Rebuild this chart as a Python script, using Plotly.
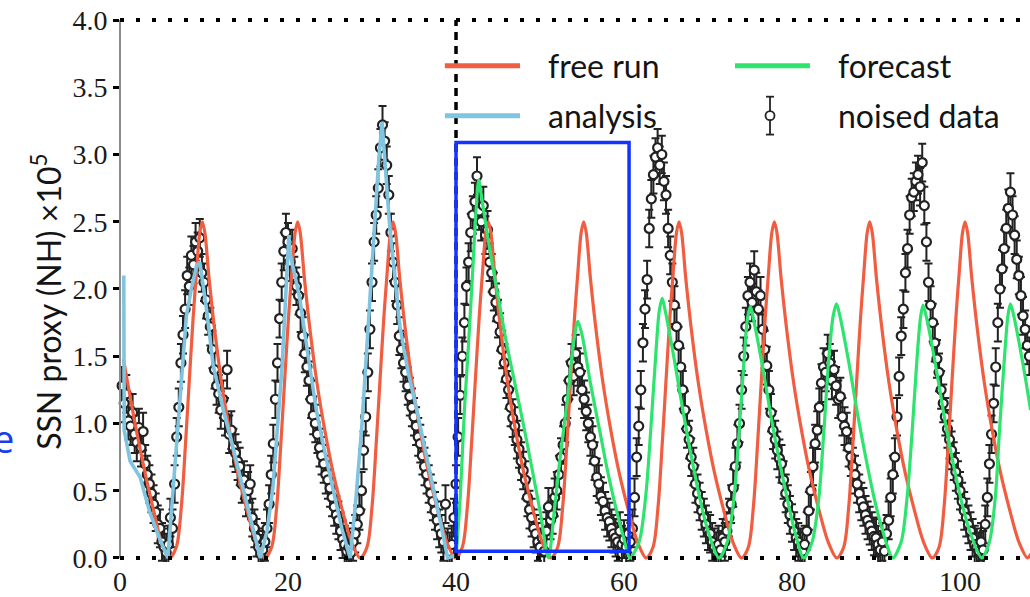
import plotly.graph_objects as go

# ---------------- data ----------------
# Noised observations, sampled every 0.25 time units; each block: (first time, values)
obs_segments = [
    (0.25, [1.28, 1.15, 1.22, 1.02, 0.98, 1.08, 0.92, 0.86, 0.97, 0.82, 0.94, 0.70, 0.62, 0.55,
            0.48, 0.40, 0.34, 0.25, 0.22, 0.12, 0.08, 0.04, 0.10]),
    (6.0, [0.30, 0.22, 0.55, 0.90, 1.12, 1.45, 1.66, 1.85, 2.10, 2.02, 2.25, 2.18, 2.35, 2.28,
           2.38, 2.12, 2.05, 1.92, 1.80, 1.72, 1.55, 1.40, 1.28, 1.22, 1.10, 1.18, 1.05, 1.40,
           0.92, 0.95, 0.82, 0.78, 0.72, 0.68, 0.55, 0.58, 0.45, 0.50, 0.55, 0.30, 0.22, 0.15,
           0.08, 0.03]),
    (17.0, [0.06, 0.12, 0.22, 0.40, 0.62, 0.85, 1.18, 1.45, 1.78, 2.05, 2.28, 2.42, 2.35, 2.20,
            2.30, 2.10, 2.02, 1.95, 1.82, 1.65, 1.52, 1.42, 1.32, 1.18, 1.06, 1.00, 0.92, 0.82,
            0.76, 0.70, 0.62, 0.58, 0.52, 0.45, 0.38, 0.32, 0.28, 0.20, 0.14, 0.10, 0.05, 0.08]),
    (27.5, [0.04, 0.12, 0.18, 0.25, 0.35, 0.50, 0.80, 1.05, 1.38, 1.70, 2.05, 2.35, 2.55, 2.75,
            3.05, 3.22, 3.10, 2.92, 2.70, 2.42, 2.20, 2.05, 1.88, 1.65, 1.55, 1.45, 1.38, 1.28,
            1.20, 1.12, 1.05, 0.98, 0.90, 0.85, 0.76, 0.68, 0.62, 0.55, 0.48, 0.42, 0.35, 0.28,
            0.22, 0.18, 0.12, 0.40, 0.08, 0.05, 0.10, 0.30]),
    (40.0, [0.55, 0.90, 1.21, 1.50, 1.75, 2.02, 2.20, 2.42, 2.55, 2.65, 2.84, 2.58, 2.50, 2.62,
            2.40, 2.44, 2.20, 2.12, 1.98, 1.90, 1.78, 1.68, 1.55, 1.45, 1.33, 1.25, 1.12, 1.04,
            0.98, 0.88, 0.81, 0.72, 0.65, 0.58, 0.45, 0.36, 0.30, 0.22, 0.18, 0.12, 0.08, 0.15,
            0.05, 0.20]),
    (51.0, [0.38, 0.28, 0.32, 0.45, 0.50, 0.62, 0.75, 0.84, 1.00, 1.18, 1.32, 1.45, 1.35, 1.52,
            1.42, 1.38, 1.25, 1.18, 1.09, 1.00, 0.90, 0.84, 0.72, 0.60, 0.55, 0.46, 0.42, 0.35,
            0.30, 0.27, 0.22, 0.18, 0.15, 0.12, 0.20, 0.10, 0.14, 0.08, 0.18, 0.12]),
    (61.0, [0.22, 0.45, 0.75, 0.98, 1.25, 1.60, 1.85, 2.07, 2.45, 2.67, 2.85, 2.98, 3.05, 2.92,
            3.00, 2.80, 2.70, 2.45, 2.25, 2.05, 1.88, 1.72, 1.58, 1.42, 1.25, 1.10, 0.96, 0.88,
            0.75, 0.68, 0.55, 0.48, 0.42, 0.35, 0.30, 0.25, 0.20, 0.18, 0.12, 0.08]),
    (71.0, [0.05, 0.10, 0.06, 0.15, 0.12, 0.20, 0.30, 0.40, 0.52, 0.68, 0.85, 1.00, 1.25, 1.50,
            1.72, 1.95, 2.05, 1.90, 2.14, 1.98, 1.85, 1.95, 1.70, 1.55, 1.43, 1.25, 1.08, 0.95,
            0.88, 0.80, 0.74, 0.70, 0.58, 0.48, 0.40, 0.32, 0.26, 0.20, 0.15, 0.12, 0.08, 0.05,
            0.10, 0.20]),
    (82.0, [0.35, 0.50, 0.68, 0.85, 0.95, 1.12, 1.30, 1.42, 1.38, 1.52, 1.45, 1.32, 1.40, 1.28,
            1.18, 1.20, 1.05, 0.98, 0.94, 0.82, 0.75, 0.68, 0.62, 0.55, 0.48, 0.42, 0.38, 0.32,
            0.28, 0.24, 0.20, 0.16, 0.15, 0.10, 0.06, 0.12, 0.05, 0.18, 0.28, 0.45]),
    (92.0, [0.62, 0.75, 1.05, 1.35, 1.65, 1.85, 2.12, 2.30, 2.55, 2.68, 2.72, 2.80, 2.85, 2.76,
            2.94, 2.62, 2.35, 2.05, 1.88, 1.75, 1.60, 1.48, 1.38, 1.25, 1.15, 1.05, 0.96, 0.88,
            0.80, 0.72, 0.64, 0.58, 0.50, 0.42, 0.35, 0.30, 0.25, 0.20, 0.15, 0.10, 0.08, 0.05,
            0.12, 0.06]),
    (103.0, [0.25, 0.45, 0.70, 0.92, 1.15, 1.42, 1.75, 2.00, 2.15, 2.30, 2.45, 2.60, 2.72, 2.55,
             2.40, 2.22, 2.10, 1.95, 1.80, 1.70, 1.58, 1.50]),
]
obs_step = 0.25
obs_err = 0.14

# Free-running model
free_t = [0.4, 1.2, 2.1, 3.1, 4.2, 5.0,
          5.9, 6.7, 7.3, 7.8, 8.25, 8.7, 9.1, 9.5, 9.8, 10.1, 10.6, 11.3, 12.1, 13.0, 14.0, 15.1, 16.2,
          17.25, 18.05, 18.65, 19.15, 19.6, 20.05, 20.45, 20.85, 21.15, 21.45, 21.95, 22.65, 23.45, 24.35, 25.35, 26.45, 27.55,
          28.6, 29.4, 30.0, 30.5, 30.95, 31.4, 31.8, 32.2, 32.5, 32.8, 33.3, 34.0, 34.8, 35.7, 36.7, 37.8, 38.9,
          39.95, 40.75, 41.35, 41.85, 42.3, 42.75, 43.15, 43.55, 43.85, 44.15, 44.65, 45.35, 46.15, 47.05, 48.05, 49.15, 50.25,
          51.3, 52.1, 52.7, 53.2, 53.65, 54.1, 54.5, 54.9, 55.2, 55.5, 56.0, 56.7, 57.5, 58.4, 59.4, 60.5, 61.6,
          62.65, 63.45, 64.05, 64.55, 65.0, 65.45, 65.85, 66.25, 66.55, 66.85, 67.35, 68.05, 68.85, 69.75, 70.75, 71.85, 72.95,
          74.0, 74.8, 75.4, 75.9, 76.35, 76.8, 77.2, 77.6, 77.9, 78.2, 78.7, 79.4, 80.2, 81.1, 82.1, 83.2, 84.3,
          85.35, 86.15, 86.75, 87.25, 87.7, 88.15, 88.55, 88.95, 89.25, 89.55, 90.05, 90.75, 91.55, 92.45, 93.45, 94.55, 95.65,
          96.7, 97.5, 98.1, 98.6, 99.05, 99.5, 99.9, 100.3, 100.6, 100.9, 101.4, 102.1, 102.9, 103.8, 104.8, 105.9, 107.0,
          108.05, 108.4]
free_v = [1.48, 1.20, 0.90, 0.60, 0.30, 0.10,
          0, 0.08, 0.38, 0.85, 1.32, 1.78, 2.12, 2.42, 2.5, 2.42, 2.08, 1.68, 1.30, 0.96, 0.64, 0.36, 0.12,
          0, 0.08, 0.38, 0.85, 1.32, 1.78, 2.12, 2.42, 2.5, 2.42, 2.08, 1.68, 1.30, 0.96, 0.64, 0.36, 0.12,
          0, 0.08, 0.38, 0.85, 1.32, 1.78, 2.12, 2.42, 2.5, 2.42, 2.08, 1.68, 1.30, 0.96, 0.64, 0.36, 0.12,
          0, 0.08, 0.38, 0.85, 1.32, 1.78, 2.12, 2.42, 2.5, 2.42, 2.08, 1.68, 1.30, 0.96, 0.64, 0.36, 0.12,
          0, 0.08, 0.38, 0.85, 1.32, 1.78, 2.12, 2.42, 2.5, 2.42, 2.08, 1.68, 1.30, 0.96, 0.64, 0.36, 0.12,
          0, 0.08, 0.38, 0.85, 1.32, 1.78, 2.12, 2.42, 2.5, 2.42, 2.08, 1.68, 1.30, 0.96, 0.64, 0.36, 0.12,
          0, 0.08, 0.38, 0.85, 1.32, 1.78, 2.12, 2.42, 2.5, 2.42, 2.08, 1.68, 1.30, 0.96, 0.64, 0.36, 0.12,
          0, 0.08, 0.38, 0.85, 1.32, 1.78, 2.12, 2.42, 2.5, 2.42, 2.08, 1.68, 1.30, 0.96, 0.64, 0.36, 0.12,
          0, 0.08, 0.38, 0.85, 1.32, 1.78, 2.12, 2.42, 2.5, 2.42, 2.08, 1.68, 1.30, 0.96, 0.64, 0.36, 0.12,
          0, 0.03]

# Assimilation (analysis) window, t < 40
ana_t = [0.45, 0.5, 1.2, 1.8, 2.4, 3.5, 4.6, 5.7, 6.2, 6.8, 7.9, 8.5, 9.1, 9.5,
         10.3, 11.1, 12.3, 13.5, 14.9, 16.3, 16.7, 17.5, 18.2, 19.3, 20.0, 20.1, 20.3,
         21.4, 22.4, 23.4, 24.4, 25.4, 26.4, 27.4, 28.1, 28.8, 29.8, 30.8, 31.2,
         32.1, 33.3, 34.3, 35.3, 36.3, 37.3, 38.2, 39.0, 40.0]
ana_v = [2.10, 0.95, 0.72, 0.66, 0.60, 0.35, 0.16, 0.00, 0.40, 0.94, 1.80, 2.00, 2.17, 2.20,
         1.85, 1.43, 1.10, 0.81, 0.45, 0.10, 0.00, 0.20, 0.52, 1.43, 2.22, 2.40, 2.25,
         1.93, 1.50, 1.09, 0.78, 0.49, 0.22, 0.00, 0.45, 0.99, 1.97, 2.96, 3.24,
         2.47, 1.73, 1.38, 1.11, 0.82, 0.54, 0.25, 0.00, 0.02]

# Forecast from t = 40
fc_t = [40.0, 40.5, 41.0, 41.5, 42.0, 42.4, 42.7, 43.0, 44.0, 45.0, 46.0, 47.0, 48.0, 49.0, 50.0, 51.0,
        51.7, 52.5, 53.3, 54.0, 54.5, 55.0, 56.0, 57.0, 58.0, 59.0, 60.0, 60.7,
        61.8, 62.6, 63.2, 63.8, 64.2, 64.55, 64.9, 66.0, 67.0, 68.0, 69.0, 70.0, 71.3,
        72.3, 73.1, 73.7, 74.3, 74.7, 75.05, 75.4, 76.5, 77.5, 78.5, 79.5, 80.4, 81.4,
        82.4, 83.2, 83.8, 84.4, 84.9, 85.3, 85.7, 86.8, 87.8, 88.8, 89.8, 90.8, 92.0,
        93.0, 93.7, 94.3, 94.9, 95.3, 95.6, 96.0, 97.1, 98.1, 99.1, 100.1, 101.2, 102.6,
        103.5, 104.2, 104.7, 105.3, 105.7, 106.0, 106.4, 107.5, 108.4]
fc_v = [0.0, 0.45, 1.10, 1.60, 2.15, 2.60, 2.81, 2.70, 2.30, 1.95, 1.60, 1.30, 1.00, 0.68, 0.35, 0.0,
        0.35, 0.80, 1.20, 1.60, 1.76, 1.66, 1.30, 0.98, 0.66, 0.38, 0.14, 0.0,
        0.12, 0.47, 0.97, 1.53, 1.84, 1.93, 1.84, 1.47, 1.10, 0.76, 0.45, 0.20, 0.0,
        0.12, 0.45, 0.94, 1.48, 1.78, 1.87, 1.78, 1.42, 1.05, 0.72, 0.42, 0.18, 0.0,
        0.12, 0.45, 0.95, 1.50, 1.80, 1.89, 1.80, 1.44, 1.07, 0.74, 0.44, 0.20, 0.0,
        0.12, 0.45, 0.94, 1.50, 1.79, 1.88, 1.79, 1.43, 1.06, 0.73, 0.44, 0.19, 0.0,
        0.12, 0.45, 0.95, 1.50, 1.80, 1.89, 1.80, 1.44, 1.10]

# Highlighted forecast window and analysis/forecast boundary
window_t = (40.0, 60.6)
window_v = (0.05, 3.09)
t_switch = 40.0

x_range = (0.0, 108.33)
y_range = (-0.03, 4.0)
y_ticks = [0.0, 0.5, 1.0, 1.5, 2.0, 2.5, 3.0, 3.5, 4.0]
x_ticks = [0, 20, 40, 60, 80, 100]

# ---------------- styling ----------------
C_FREE = "#f05d40"
C_ANA = "#80c4e0"
C_FC = "#2fe36f"
C_OBS = "#222222"
C_BOX = "#1433ff"

obs_t, obs_v = [], []
for start, vals in obs_segments:
    for i, v in enumerate(vals):
        obs_t.append(round(start + obs_step * i, 3))
        obs_v.append(v)

fig = go.Figure()

fig.add_trace(go.Scatter(
    x=obs_t, y=obs_v, mode="markers", name="noised data",
    error_y=dict(type="constant", value=obs_err, color=C_OBS, thickness=2, width=4),
    marker=dict(symbol="circle", size=9, color="white", line=dict(color=C_OBS, width=2.2)),
    cliponaxis=False, showlegend=False,
))
fig.add_trace(go.Scatter(
    x=free_t, y=free_v, mode="lines", name="free run",
    line=dict(color=C_FREE, width=3.2, shape="spline", smoothing=0.9), showlegend=False,
))
fig.add_trace(go.Scatter(
    x=ana_t, y=ana_v, mode="lines", name="analysis",
    line=dict(color=C_ANA, width=3.6), showlegend=False,
))
fig.add_trace(go.Scatter(
    x=fc_t, y=fc_v, mode="lines", name="forecast",
    line=dict(color=C_FC, width=3.2, shape="spline", smoothing=0.8), showlegend=False,
))

# paper-coordinate helper values
y0_paper = (0 - y_range[0]) / (y_range[1] - y_range[0])

shapes = [
    # left axis line
    dict(type="line", xref="paper", yref="paper", x0=0, x1=0, y0=y0_paper, y1=1,
         line=dict(color="#8c8c8c", width=2)),
    # dotted frame lines at bottom and top
    dict(type="line", xref="paper", yref="y", x0=0, x1=1, y0=0, y1=0,
         line=dict(color="black", width=4, dash="4px,12px")),
    dict(type="line", xref="paper", yref="paper", x0=0, x1=1, y0=1, y1=1,
         line=dict(color="black", width=4, dash="4px,12px")),
    # analysis / forecast boundary
    dict(type="line", xref="x", yref="paper", x0=t_switch, x1=t_switch, y0=y0_paper, y1=1,
         line=dict(color="black", width=3.5, dash="8px,6px")),
    # forecast window
    dict(type="rect", xref="x", yref="y", x0=window_t[0], x1=window_t[1],
         y0=window_v[0], y1=window_v[1], line=dict(color=C_BOX, width=3.5)),
]

# ---- legend (drawn manually, two columns) ----
leg_font = dict(family="Lato, 'Open Sans', sans-serif", size=32, color="#141414")
row1, row2 = 0.9154, 0.8235
colA_line, colB_line = (0.357, 0.4396), (0.6758, 0.7582)
colA_text, colB_text = 0.4681, 0.7868
shapes += [
    dict(type="line", xref="paper", yref="paper", x0=colA_line[0], x1=colA_line[1], y0=row1, y1=row1,
         line=dict(color=C_FREE, width=5)),
    dict(type="line", xref="paper", yref="paper", x0=colA_line[0], x1=colA_line[1], y0=row2, y1=row2,
         line=dict(color=C_ANA, width=5)),
    dict(type="line", xref="paper", yref="paper", x0=colB_line[0], x1=colB_line[1], y0=row1, y1=row1,
         line=dict(color=C_FC, width=5)),
]
sym_x = 0.7143
bar_top, bar_bot = 0.8585, 0.7886
cap = 4 / 910
rx, ry = 4.5 / 910, 4.5 / 544
shapes += [
    dict(type="line", xref="paper", yref="paper", x0=sym_x, x1=sym_x, y0=bar_bot, y1=bar_top,
         line=dict(color=C_OBS, width=1.8)),
    dict(type="line", xref="paper", yref="paper", x0=sym_x - cap, x1=sym_x + cap, y0=bar_top, y1=bar_top,
         line=dict(color=C_OBS, width=1.8)),
    dict(type="line", xref="paper", yref="paper", x0=sym_x - cap, x1=sym_x + cap, y0=bar_bot, y1=bar_bot,
         line=dict(color=C_OBS, width=1.8)),
    dict(type="circle", xref="paper", yref="paper", x0=sym_x - rx, x1=sym_x + rx,
         y0=row2 - ry, y1=row2 + ry, fillcolor="white", line=dict(color=C_OBS, width=1.8)),
]

annotations = [
    dict(text="free run", x=colA_text, y=row1, xref="paper", yref="paper", xanchor="left",
         yanchor="middle", showarrow=False, font=leg_font),
    dict(text="analysis", x=colA_text, y=row2, xref="paper", yref="paper", xanchor="left",
         yanchor="middle", showarrow=False, font=leg_font),
    dict(text="forecast", x=colB_text, y=row1, xref="paper", yref="paper", xanchor="left",
         yanchor="middle", showarrow=False, font=leg_font),
    dict(text="noised data", x=colB_text, y=row2, xref="paper", yref="paper", xanchor="left",
         yanchor="middle", showarrow=False, font=leg_font),
    # y axis title
    dict(text="SSN proxy (NH) ×10<sup>5</sup>", x=-0.0813, y=0.48, xref="paper", yref="paper",
         xanchor="center", yanchor="middle", textangle=-90, showarrow=False,
         font=dict(family="Lato, 'Open Sans', sans-serif", size=32, color="#141414")),
    # fragment of neighbouring text at the left border
    dict(text="e", x=-0.1143, y=0.228, xref="paper", yref="paper", xanchor="right",
         yanchor="middle", showarrow=False,
         font=dict(family="Open Sans, sans-serif", size=38, color="#1a3cf0")),
]

tick_font = dict(family="Liberation Serif, serif", size=28, color="#1a1a1a")
fig.update_layout(
    width=1030, height=597,
    margin=dict(l=120, r=0, t=20, b=33),
    paper_bgcolor="white", plot_bgcolor="white",
    showlegend=False,
    shapes=shapes, annotations=annotations,
    xaxis=dict(range=list(x_range), showgrid=False, zeroline=False, showline=False,
               tickmode="array", tickvals=x_ticks, ticktext=[str(v) for v in x_ticks],
               ticks="", tickfont=tick_font),
    yaxis=dict(range=list(y_range), showgrid=False, zeroline=False, showline=False,
               tickmode="array", tickvals=y_ticks, ticktext=[f"{v:.1f}" for v in y_ticks],
               ticks="outside", ticklen=6, tickwidth=3, tickcolor="black", tickfont=tick_font),
)

fig.write_html("out.html")
